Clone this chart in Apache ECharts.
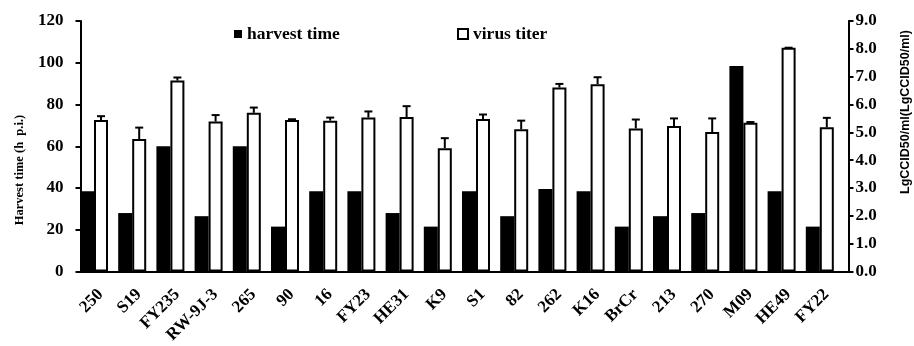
<!DOCTYPE html>
<html>
<head>
<meta charset="utf-8">
<script src="https://cdn.jsdelivr.net/npm/echarts@6/dist/echarts.min.js"></script>
<style>html,body{margin:0;padding:0;background:#fff}#c{width:914px;height:346px}</style>
</head>
<body>
<div id="c"></div>
<script>
const categories = ['250','S19','FY235','RW-9J-3','265','90','16','FY23','HE31','K9','S1','82','262','K16','BrCr','213','270','M09','HE49','FY22'];
const harvestTime = [38.5,28,60,26.5,60,21.5,38.5,38.5,28,21.5,38.5,26.5,39.5,38.5,21.5,26.5,28,98.5,38.5,21.5];
const virusTiter = [5.44,4.76,6.86,5.39,5.70,5.44,5.42,5.53,5.55,4.43,5.48,5.11,6.61,6.73,5.14,5.23,5.01,5.34,8.04,5.18];
const titerError = [0.14,0.41,0.11,0.23,0.19,0.03,0.11,0.22,0.39,0.36,0.16,0.31,0.13,0.25,0.32,0.27,0.49,0.03,0,0.34];
const leftMin = 0, leftMax = 120, leftStep = 20;
const rightMin = 0, rightMax = 9, rightStep = 1;

const serif = '"Liberation Serif", "Times New Roman", serif';
const gTop = 21, gBottom = 74.5;
const chart = echarts.init(document.getElementById('c'), null, {renderer: 'canvas'});
const errData = virusTiter.map((v, i) => [i, v, titerError[i]]);
const axisLabelStyle = {color: '#000', fontFamily: serif, fontWeight: 'bold', fontSize: 17};
const legendText = {color: '#000', fontFamily: serif, fontWeight: 'bold', fontSize: 17.5};

chart.setOption({
  animation: false,
  backgroundColor: '#fff',
  grid: [
    {left: 80.5, right: 65.5, top: gTop, bottom: gBottom},
    {left: 81.6, right: 68.4, top: gTop, bottom: gBottom},
    {left: 74.9, right: 75.1, top: gTop, bottom: gBottom}
  ],
  legend: [
    {data: [{name: 'harvest time', icon: 'rect'}], left: 229, top: 20, itemWidth: 8, itemHeight: 8, itemGap: 0, textStyle: legendText},
    {data: [{name: 'virus titer', icon: 'rect'}], left: 452, top: 20, itemWidth: 10, itemHeight: 10, itemGap: 0, textStyle: legendText}
  ],
  xAxis: [
    {type: 'category', gridIndex: 0, data: categories,
     axisLine: {show: true, lineStyle: {color: '#000', width: 2}},
     axisTick: {show: false}, axisLabel: {show: false}, splitLine: {show: false}},
    {type: 'category', gridIndex: 1, data: categories,
     axisLine: {show: false},
     axisTick: {show: true, alignWithLabel: true, length: 5, lineStyle: {color: '#000', width: 2}},
     axisLabel: {show: true, interval: 0, rotate: 45, margin: 25, color: '#000', fontFamily: serif, fontWeight: 'bold', fontSize: 17},
     splitLine: {show: false}},
    {type: 'category', gridIndex: 2, data: categories, show: false}
  ],
  yAxis: [
    {type: 'value', gridIndex: 0, position: 'left', min: leftMin, max: leftMax, interval: leftStep,
     axisLine: {show: true, lineStyle: {color: '#000', width: 2}},
     axisTick: {show: true, length: 5, lineStyle: {color: '#000', width: 2}},
     axisLabel: Object.assign({margin: 17}, axisLabelStyle),
     splitLine: {show: false}},
    {type: 'value', gridIndex: 0, position: 'right', min: rightMin, max: rightMax, interval: rightStep,
     axisLine: {show: true, lineStyle: {color: '#000', width: 2}},
     axisTick: {show: true, length: 5, lineStyle: {color: '#000', width: 2}},
     axisLabel: Object.assign({margin: 7, formatter: v => v.toFixed(1)}, axisLabelStyle),
     splitLine: {show: false}},
    {type: 'value', gridIndex: 1, min: leftMin, max: leftMax, show: false},
    {type: 'value', gridIndex: 2, min: leftMin, max: leftMax, show: false},
    {type: 'value', gridIndex: 2, min: rightMin, max: rightMax, show: false}
  ],
  graphic: [
    {type: 'text', x: 20, y: 170, rotation: Math.PI / 2,
     style: {text: 'Harvest time (h  p.i.)', fill: '#000', font: 'bold 12.5px ' + serif, textAlign: 'center', textVerticalAlign: 'middle'}},
    {type: 'text', x: 906, y: 112, rotation: Math.PI / 2,
     style: {text: 'LgCCID50/ml(LgCCID50/ml)', fill: '#000', font: 'bold 12.5px "Liberation Sans", Arial, sans-serif', textAlign: 'center', textVerticalAlign: 'middle'}}
  ],
  series: [
    {name: 'harvest time', type: 'bar', xAxisIndex: 2, yAxisIndex: 3, data: harvestTime,
     barWidth: 14, barGap: '0%', itemStyle: {color: '#000'}},
    {name: 'virus titer', type: 'bar', xAxisIndex: 2, yAxisIndex: 4, data: virusTiter,
     barWidth: 14, barGap: '0%', itemStyle: {color: '#fff', borderColor: '#000', borderWidth: 2}},
    {name: 'err', type: 'custom', xAxisIndex: 2, yAxisIndex: 4, data: errData, z: 5,
     renderItem: function (params, api) {
       const i = api.value(0), v = api.value(1), e = api.value(2);
       const p0 = api.coord([i, v]);
       const p1 = api.coord([i, v + e]);
       const x = p0[0] + 7;
       const style = {stroke: '#000', lineWidth: 2};
       return {type: 'group', children: [
         {type: 'line', shape: {x1: x, y1: p0[1], x2: x, y2: p1[1]}, style: style},
         {type: 'line', shape: {x1: x - 4, y1: p1[1], x2: x + 4, y2: p1[1]}, style: style}
       ]};
     }}
  ]
});
</script>
</body>
</html>
